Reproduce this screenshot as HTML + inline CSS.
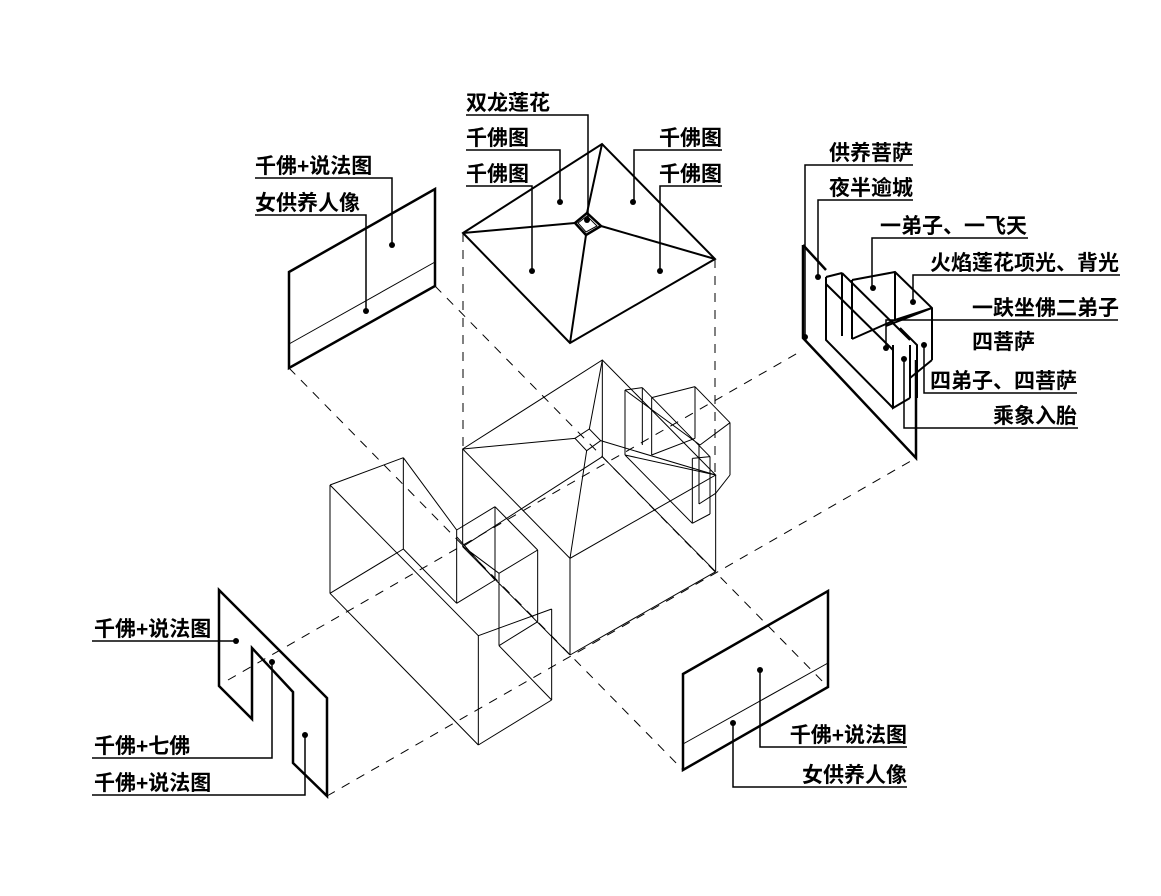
<!DOCTYPE html>
<html><head><meta charset="utf-8"><style>
html,body{margin:0;padding:0;background:#fff}
svg{display:block}
text{font-family:"Liberation Sans","Noto Sans CJK SC","WenQuanYi Zen Hei",sans-serif;font-weight:bold;font-size:21px;fill:#000}
</style></head><body>
<svg width="1161" height="896" viewBox="0 0 1161 896" xmlns="http://www.w3.org/2000/svg">
<rect width="1161" height="896" fill="#fff"/>
<!-- dashed axes -->
<g stroke="#000" stroke-width="1" stroke-dasharray="9,8" fill="none">
<line x1="435" y1="286" x2="828" y2="687"/>
<line x1="289" y1="368" x2="683" y2="770"/>
<line x1="228" y1="680" x2="803" y2="350"/>
<line x1="327" y1="796" x2="916" y2="458"/>
<line x1="463" y1="233" x2="463" y2="449"/>
<line x1="715" y1="259" x2="715" y2="475"/>
</g>
<!-- wireframe building -->
<g transform="translate(320,350) scale(0.33333)" stroke="#000" stroke-width="3" fill="none">
<path d="M428,297 L847,30 L1187,375 L750,625 Z"/>
<path d="M428,297 L765,265 M847,30 L808,237 M1187,375 L842,272 M750,625 L800,302"/>
<path d="M765,265 L808,237 L842,272 L800,302 Z"/>
<path d="M428,297 V590 M847,30 V320 M1187,375 V665 M750,625 V915"/>
<path d="M750,915 L1187,665 M428,590 L847,320 M847,320 L1187,665 M428,590 L750,915"/>
<path d="M30,405 L250,323 M30,405 V730 M250,323 V597 M30,730 L250,597 M30,405 L475,857 M30,730 L475,1185 M475,857 V1185 M475,857 L695,777 M695,777 V1050 M475,1185 L695,1050 M537,887 L695,1050 M537,887 L653,815 M537,670 V887 M653,600 V815 M525,470 L653,600 M410,540 L525,470 M410,540 V760 M525,470 V690 M410,760 L525,690 M250,597 L410,760 M250,323 L410,540 M537,670 L653,600 M430,590 L537,670 M410,560 L525,690"/>
<path d="M915,120 V315 M967,113 V285 M915,120 L967,113 M995,143 L1125,110 M1125,110 V265 M995,143 V315 M1125,110 L1230,218 M1230,218 V375 M1230,375 L1187,430 M915,120 L1140,285 M967,113 L1170,320 M915,315 L1117,520 M995,315 L1125,265 M915,315 L1187,375 M1117,325 V520 M1170,320 V492 M1117,520 L1170,492 M1137,285 V462 M1137,462 L1187,430 M1117,325 L1170,320 M1140,285 L1230,218"/>
</g>
<!-- roof -->
<g stroke="#000" stroke-width="2" fill="none">
<path d="M463,233 L602,144 L715,259 L570,343 Z"/>
<path d="M463,233 L575,223 M602,144 L587,213 M715,259 L601,226 M570,343 L586,235"/>
<path d="M575,223 L587,213 L601,226 L586,235 Z" stroke-width="2.5"/>
<path d="M578,223 L587,216 L597,226 L586,232 Z" stroke-width="1"/>
</g>
<!-- panels -->
<g stroke="#000" stroke-width="2.5" fill="none">
<path d="M289,272 L435,189 L435,286 L289,368 Z"/>
<path d="M683,674 L828,591 L828,687 L683,770 Z"/>
<path d="M219,590 L327,698 L327,796 L293,763 L293,692 L252,648 L252,719 L219,686 Z"/>
<path d="M803,245 V338 L916,458 V360"/>
<path d="M803,245 L826,270"/>
</g>
<g stroke="#000" stroke-width="1" fill="none">
<line x1="289" y1="344" x2="435" y2="262"/>
<line x1="683" y1="744" x2="828" y2="663"/>
</g>
<!-- niche box -->
<g stroke="#000" stroke-width="2" fill="none">
<path d="M826,277 V340 L893,408 M826,277 L842,273 M842,273 V336 M826,284 L893,350 M842,273 L910,340 M852,280 V339 M852,280 L895,272 L932,308 V360 M852,339 L895,320 M895,272 V320 M895,320 L932,308 M893,345 V408 L910,398 M900,328 L917,345 V398 M910,398 V345 M932,360 L910,378 M886,326 L932,308"/>
</g>
<!-- leader lines -->
<g stroke="#000" stroke-width="1.5" fill="none">
<path d="M255,178 H392 V245 M255,215 H366 V311"/>
<path d="M466,115 H588 V220 M466,150 H560 V202 M466,186 H532 V271 M722,150 H634 V202 M722,186 H660 V271"/>
<path d="M913,165 H805 V337 M913,200 H818 V277 M1028,238 H872 V288 M1120,275 H913 V302 M1118,320 H886 V348 M1077,393 H924 V345 M1078,428 H904 V359"/>
<path d="M92,641 H236 M92,758 H272 V662 M92,795 H305 V735"/>
<path d="M907,747 H760 V670 M907,787 H733 V723"/>
</g>
<g fill="#000">
<circle cx="392" cy="245" r="3"/><circle cx="366" cy="311" r="3"/>
<circle cx="587" cy="220" r="3"/><circle cx="560" cy="202" r="3"/><circle cx="532" cy="271" r="3"/><circle cx="633" cy="202" r="3"/><circle cx="660" cy="271" r="3"/>
<circle cx="805" cy="337" r="3"/><circle cx="818" cy="277" r="3"/><circle cx="873" cy="288" r="3"/><circle cx="913" cy="302" r="3"/><circle cx="886" cy="348" r="3"/><circle cx="924" cy="345" r="3"/><circle cx="904" cy="359" r="3"/>
<circle cx="236" cy="641" r="3"/><circle cx="272" cy="662" r="3"/><circle cx="305" cy="735" r="3"/>
<circle cx="760" cy="670" r="3"/><circle cx="733" cy="723" r="3"/>
</g>
<!-- labels -->
<text x="255" y="173">千佛+说法图</text>
<text x="255" y="210">女供养人像</text>
<text x="466" y="110">双龙莲花</text>
<text x="466" y="145">千佛图</text>
<text x="466" y="181">千佛图</text>
<text x="722" y="145" text-anchor="end">千佛图</text>
<text x="722" y="181" text-anchor="end">千佛图</text>
<text x="913" y="160" text-anchor="end">供养菩萨</text>
<text x="913" y="195" text-anchor="end">夜半逾城</text>
<text x="1027" y="233" text-anchor="end">一弟子、一飞天</text>
<text x="1119" y="270" text-anchor="end">火焰莲花项光、背光</text>
<text x="1119" y="315" text-anchor="end">一趺坐佛二弟子</text>
<text x="1035" y="349" text-anchor="end">四菩萨</text>
<text x="1077" y="388" text-anchor="end">四弟子、四菩萨</text>
<text x="1077" y="423" text-anchor="end">乘象入胎</text>
<text x="94" y="636">千佛+说法图</text>
<text x="94" y="753">千佛+七佛</text>
<text x="94" y="790">千佛+说法图</text>
<text x="907" y="742" text-anchor="end">千佛+说法图</text>
<text x="907" y="782" text-anchor="end">女供养人像</text>
</svg>
</body></html>
